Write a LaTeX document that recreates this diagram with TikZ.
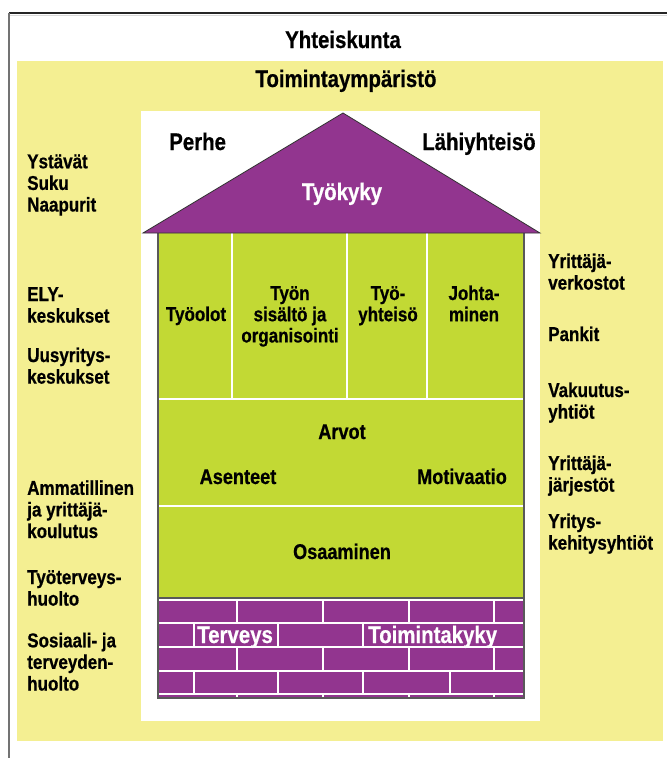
\documentclass[tikz,border=0pt]{standalone}
\usepackage{fontspec}
\setmainfont{Liberation Sans}[FakeStretch=0.85, BoldFeatures={FakeBold=0.6}]
\definecolor{yel}{HTML}{F4EF92}
\definecolor{purp}{HTML}{92358F}
\definecolor{grn}{HTML}{C2D934}
\begin{document}
\begin{tikzpicture}[x=0.75pt,y=-0.75pt,
  txt/.style={font=\bfseries\fontsize{15}{16.2}\selectfont, inner sep=0pt, align=left, anchor=base west},
  ctxt/.style={font=\bfseries\fontsize{15}{15.9}\selectfont, inner sep=0pt, align=center, anchor=base},
  mid/.style={font=\bfseries\fontsize{16}{18}\selectfont, inner sep=0pt, anchor=base},
  big/.style={font=\bfseries\fontsize{18}{20}\selectfont, inner sep=0pt},
  wl/.style={draw=white, line width=0.9pt},
  edge/.style={draw=black!65, line width=0.8pt}]
\useasboundingbox (0,0) rectangle (667,758);
\fill[white] (0,0) rectangle (667,758);
% frame
\draw[black!85, line width=1pt] (9,13) -- (667,13);
\draw[black!15, line width=0.8pt] (10,15.5) -- (667,15.5);
\draw[black!55, line width=1.4pt] (9,13) -- (9,758);
% environment
\fill[yel] (17,61) rectangle (663,741);
\fill[white] (141,111) rectangle (540,721);
% house body
\fill[grn] (158,233) rectangle (524,598);
\foreach \x in {232,347,427} \draw[wl] (\x,233) -- (\x,399);
\draw[wl] (158,399) -- (524,399);
\draw[wl] (158,506) -- (524,506);
% bricks
\fill[purp] (158,598) rectangle (524,698);
\foreach \y in {600,623,647,671,694} \draw[wl] (158,\y) -- (524,\y);
\foreach \ya/\yb in {600/623,647/671,694/698}
  \foreach \x in {237,323,409,494} \draw[wl] (\x,\ya) -- (\x,\yb);
\foreach \x in {194,278,363} \draw[wl] (\x,623) -- (\x,647);
\foreach \x in {194,278,363,450} \draw[wl] (\x,671) -- (\x,694);
\draw[edge] (158,233) -- (158,698) -- (524,698) -- (524,233);
\draw[edge] (158,598) -- (524,598);
% roof
\filldraw[fill=purp, draw=black!80, line width=0.6pt] (143,233) -- (343,113) -- (540,233) -- cycle;
% titles
\node[big, anchor=base] (soc) at (343,48) {Yhteiskunta};
\node[big, anchor=base] (env) at (346,87) {Toimintaympäristö};
\node[big, anchor=base west] (fam) at (169,150) {Perhe};
\node[big, anchor=base west] (comm) at (422,150) {Lähiyhteisö};
\node[big, anchor=base, text=white] (wa) at (342,200) {Työkyky};
% columns (anchor = baseline of last line)
\node[ctxt] (c1) at (196,321) {Työolot};
\node[ctxt] (c2) at (290,342.4) {Työn\\sisältö ja\\organisointi};
\node[ctxt] (c3) at (388,321.2) {Työ-\\yhteisö};
\node[ctxt] (c4) at (474,321.2) {Johta-\\minen};
% middle
\node[mid] (arv) at (342,439) {Arvot};
\node[mid] (ase) at (238,484) {Asenteet};
\node[mid] (mot) at (462,484) {Motivaatio};
\node[mid] (osa) at (342,559) {Osaaminen};
% foundation
\node[big, anchor=base west, text=white] (ter) at (197,643) {Terveys};
\node[big, anchor=base west, text=white] (tk) at (368,643) {Toimintakyky};
% left column
\node[txt] (l1) at (27,211.5) {Ystävät\\Suku\\Naapurit};
\node[txt] (l2) at (27,322.6) {ELY-\\keskukset};
\node[txt] (l3) at (27,383.6) {Uusyritys-\\keskukset};
\node[txt] (l4) at (27,538) {Ammatillinen\\ja yrittäjä-\\koulutus};
\node[txt] (l5) at (27,605.6) {Työterveys-\\huolto};
\node[txt] (l6) at (27,690.5) {Sosiaali- ja\\terveyden-\\huolto};
% right column
\node[txt] (r1) at (548,289.6) {Yrittäjä-\\verkostot};
\node[txt] (r2) at (548,341) {Pankit};
\node[txt] (r3) at (548,418.6) {Vakuutus-\\yhtiöt};
\node[txt] (r4) at (548,491.6) {Yrittäjä-\\järjestöt};
\node[txt] (r5) at (548,549.6) {Yritys-\\kehitysyhtiöt};
\end{tikzpicture}
\end{document}
